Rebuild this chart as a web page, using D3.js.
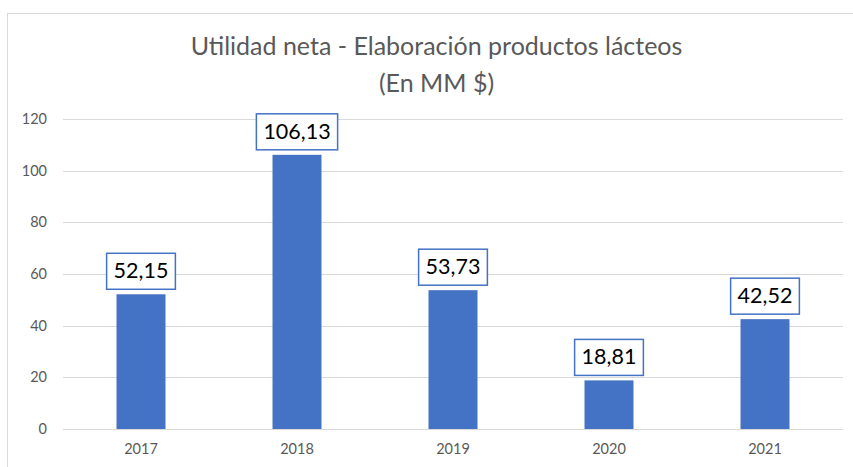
<!DOCTYPE html>
<html>
<head>
<meta charset="utf-8">
<script src="https://cdn.jsdelivr.net/npm/d3@7"></script>
<style>
  html, body { margin: 0; padding: 0; background: #fff; }
  svg { display: block; }
</style>
</head>
<body>
<script>
const categories = ["2017", "2018", "2019", "2020", "2021"];
const values = [52.15, 106.13, 53.73, 18.81, 42.52];
const labels = ["52,15", "106,13", "53,73", "18,81", "42,52"];
const yTicks = [0, 20, 40, 60, 80, 100, 120];
const titleLines = ["Utilidad neta - Elaboración productos lácteos", "(En MM $)"];

const W = 853, H = 467;
const FONT = "Lato, 'Open Sans', sans-serif";
const svg = d3.select("body").append("svg").attr("width", W).attr("height", H);

// chart border (only left and top visible)
svg.append("rect")
  .attr("x", 7.5).attr("y", 13.5).attr("width", 900).attr("height", 500)
  .attr("fill", "#fff").attr("stroke", "#d9d9d9").attr("stroke-width", 1);

const x = d3.scaleBand().domain(categories).range([63, 843]).paddingInner(0.686).paddingOuter(0.343);
const y = d3.scaleLinear().domain([0, 120]).range([429, 119]);

// gridlines
svg.append("g").selectAll("line").data(yTicks).join("line")
  .attr("x1", 63).attr("x2", 843)
  .attr("y1", d => Math.round(y(d)) + 0.5).attr("y2", d => Math.round(y(d)) + 0.5)
  .attr("stroke", "#d9d9d9").attr("stroke-width", 1);

// y axis labels
const yAxis = svg.append("g").attr("transform", "translate(47,0)")
  .call(d3.axisLeft(y).tickValues(yTicks).tickSize(0).tickPadding(0));
yAxis.select(".domain").remove();
yAxis.selectAll("text").attr("font-family", FONT).attr("font-size", 14.5).attr("fill", "#595959");

// x axis labels
const xAxis = svg.append("g").attr("transform", "translate(0,429)")
  .call(d3.axisBottom(x).tickSize(0).tickPadding(15));
xAxis.select(".domain").remove();
xAxis.selectAll("text").attr("font-family", FONT).attr("font-size", 14.5).attr("fill", "#595959");

// bars
svg.append("g").selectAll("rect").data(values).join("rect")
  .attr("x", (d, i) => x(categories[i]))
  .attr("width", x.bandwidth())
  .attr("y", d => y(d))
  .attr("height", d => y(0) - y(d))
  .attr("fill", "#4472c4");

// data labels with boxes
const lg = svg.append("g");
values.forEach((v, i) => {
  const cx = x(categories[i]) + x.bandwidth() / 2;
  const bottom = y(v) - 5;
  const g = lg.append("g");
  const rect = g.append("rect");
  const t = g.append("text")
    .attr("x", cx).attr("y", bottom - 11)
    .attr("text-anchor", "middle")
    .attr("font-family", FONT).attr("font-size", 21.5).attr("fill", "#000")
    .text(labels[i]);
  const w = t.node().getComputedTextLength() + 14;
  rect.attr("x", cx - w / 2).attr("y", bottom - 36).attr("width", w).attr("height", 36)
    .attr("fill", "#fff").attr("stroke", "#4472c4").attr("stroke-width", 1.5);
});

// title
svg.append("g").selectAll("text").data(titleLines).join("text")
  .attr("x", 436.5).attr("y", (d, i) => 55 + i * 37)
  .attr("text-anchor", "middle")
  .attr("font-family", FONT).attr("font-size", 25).attr("fill", "#595959")
  .text(d => d);
</script>
</body>
</html>
